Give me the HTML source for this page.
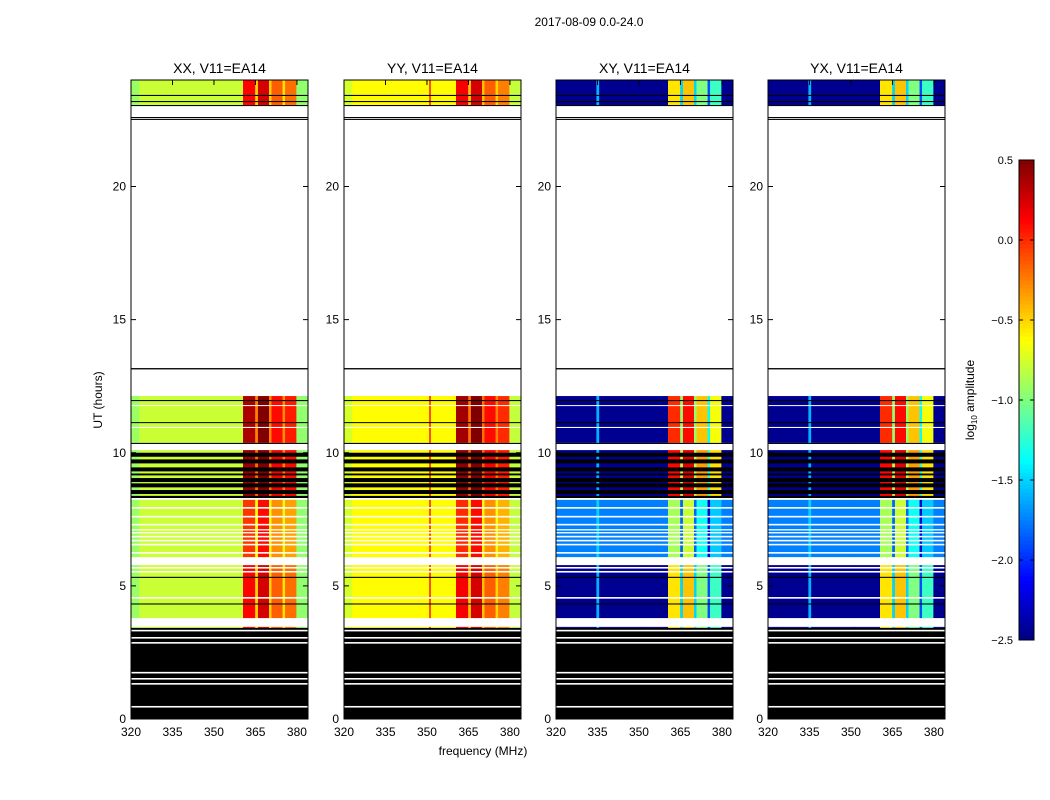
<!DOCTYPE html>
<html><head><meta charset="utf-8"><style>
body{margin:0;background:#fff;}
svg{display:block;font-family:"Liberation Sans","DejaVu Sans",sans-serif;}
</style></head><body>
<svg id="fig" width="1050" height="800" viewBox="0 0 1050 800" xmlns="http://www.w3.org/2000/svg">
<rect width="1050" height="800" fill="#fff"/>
<text x="589" y="26" font-size="12" text-anchor="middle">2017-08-09 0.0-24.0</text>
<text transform="translate(102,400) rotate(-90)" font-size="12" text-anchor="middle">UT (hours)</text>
<text x="483" y="755" font-size="12" text-anchor="middle">frequency (MHz)</text>
<g id="panels"></g>
<g id="cbar"></g>
</svg>
<script>
// ---- data ----
const panelTitles = ["XX, V11=EA14","YY, V11=EA14","XY, V11=EA14","YX, V11=EA14"];
const freqEdges = [320,323,334.6,335.6,350.8,351.4,360.5,364.9,365.9,369.9,370.8,374.8,375.7,379.8,384];
const xxBand = [-0.92,-0.78,-0.78,-0.78,-0.78,-0.78,0.12,-0.5,0.25,-0.5,-0.15,-0.55,-0.2,-0.95];
const yyBand = [-0.75,-0.62,-0.62,-0.62,0.0,-0.62,0.15,-0.45,0.25,-0.45,-0.15,-0.5,-0.25,-0.8];
const xyBand = [-2.45,-2.45,-1.6,-2.45,-2.45,-2.45,-0.55,-1.5,-0.45,-1.5,-1.0,-1.9,-1.2,-2.45];
const yxBand = [-2.45,-2.45,-1.6,-2.45,-2.45,-2.45,-0.55,-1.5,-0.45,-1.5,-1.0,-1.9,-1.2,-2.45];
const hotFirst = 6, hotLast = 12;
// time segments (hours): start, end, kind (d=data, e=data blue xpol, k=flag black, w=blank), boost
const segStart = [23.06,23.40,23.17,23.02,22.57,22.50,13.13,10.37,11.94,11.76,11.12,10.93,10.33,8.30,9.85,9.60,9.30,9.15,8.90,8.70,8.45,8.30,6.08,7.90,7.57,7.27,7.08,6.97,6.82,6.67,6.52,6.21,3.79,5.65,5.50,5.30,4.52,4.30,3.42,0,3.29,3.02,2.83,1.71,1.48,1.29,0.43];
const segEnd   = [24.00,23.44,23.21,23.06,22.61,22.54,13.18,12.13,11.98,11.79,11.15,10.97,10.37,10.10,10.00,9.75,9.45,9.22,9.05,8.85,8.60,8.38,8.23,7.96,7.63,7.33,7.13,7.02,6.88,6.73,6.58,6.27,5.78,5.71,5.56,5.34,4.58,4.34,3.46,3.42,3.35,3.08,2.89,1.77,1.54,1.35,0.49];
const segKind  = ["d","k","k","k","k","k","k","d","k","w","k","w","k","d","k","k","k","k","k","k","k","k","e","w","w","w","w","w","w","w","w","w","d","w","w","k","w","k","d","k","w","w","w","w","w","w","w"];
const segBoost = [0.0,0,0,0,0,0,0,0.25,0,0,0,0,0,0.3,0,0,0,0,0,0,0,0,-0.15,0,0,0,0,0,0,0,0,0,0.0,0,0,0,0,0,0,0,0,0,0,0,0,0,0];
const yTicks = [0,5,10,15,20];
const xTicks = [320,335,350,365,380];
const cbTicks = [-2.5,-2.0,-1.5,-1.0,-0.5,0.0,0.5];
// ---- layout ----
const panelX = [131,344,556,768], PW = 177, PT = 80, PB = 719;
const vmin = -2.5, vmax = 0.5;
const boostScale = [1,1,2.2,2.2];
const bands = [xxBand,yyBand,xyBand,yxBand];
function yS(h){return PB-(h/24)*(PB-PT);}
function xS(p,f){return panelX[p]+(f-320)/(384-320)*PW;}
function jet(v){
  let t=(v-vmin)/(vmax-vmin); t=Math.max(0,Math.min(1,t));
  const c=x=>Math.round(255*Math.max(0,Math.min(1,x)));
  const r=Math.min(4*t-1.5,-4*t+4.5), g=Math.min(4*t-0.5,-4*t+3.5), b=Math.min(4*t+0.5,-4*t+2.5);
  return `rgb(${c(r)},${c(g)},${c(b)})`;
}
const NS="http://www.w3.org/2000/svg";
function mk(tag,attrs,parent){const e=document.createElementNS(NS,tag);for(const k in attrs)e.setAttribute(k,attrs[k]);parent.appendChild(e);return e;}
const G=document.getElementById('panels');
for(let p=0;p<4;p++){
  const g=mk('g',{},G);
  
  
  for(let s=0;s<segStart.length;s++){
    const y0=yS(segEnd[s]), y1=yS(segStart[s]), k=segKind[s];
    if(k==='k'||k==='w'){
      const r=mk('rect',{x:panelX[p],y:y0,width:PW,height:Math.max(1,y1-y0),fill:k==='k'?'#000':'#fff'},g);
      
      
      continue;
    }
    for(let b=0;b<freqEdges.length-1;b++){
      let v=bands[p][b];
      if(b>=hotFirst&&b<=hotLast) v+=segBoost[s]*boostScale[p];
      if(k==='e'&&p>=2&&(b<hotFirst||b>hotLast)) v=(b===2?-1.5:-1.75);
      const x0=xS(p,freqEdges[b]), x1=xS(p,freqEdges[b+1]);
      const r=mk('rect',{x:x0,y:y0,width:x1-x0+0.4,height:y1-y0,fill:jet(v)},g);
      
      
    }
  }
  const fr=mk('rect',{x:panelX[p],y:PT,width:PW,height:PB-PT,fill:'none',stroke:'#000','stroke-width':1},g);
  
  
  const t=mk('text',{x:panelX[p]+PW/2,y:PT-7,'font-size':14,'text-anchor':'middle'},g);
  t.textContent=panelTitles[p];
  
  
  for(const h of yTicks){
    const y=yS(h);
    mk('line',{x1:panelX[p],x2:panelX[p]+5,y1:y,y2:y,stroke:'#000'},g);
    mk('line',{x1:panelX[p]+PW-5,x2:panelX[p]+PW,y1:y,y2:y,stroke:'#000'},g);
    const l=mk('text',{x:panelX[p]-5,y:y+4,'font-size':12,'text-anchor':'end'},g);
    l.textContent=h;
    
    
  }
  for(const f of xTicks){
    const x=xS(p,f);
    mk('line',{x1:x,x2:x,y1:PB,y2:PB-5,stroke:'#000'},g);
    mk('line',{x1:x,x2:x,y1:PT,y2:PT+5,stroke:'#000'},g);
    const l=mk('text',{x:x,y:PB+17,'font-size':12,'text-anchor':'middle'},g);
    l.textContent=f;
    
    
  }
}
// colorbar
const C=document.getElementById('cbar');
const CX=1019,CW=15,CT=160,CB=640;
const N=120;
for(let i=0;i<N;i++){
  const v=vmin+(i+0.5)/N*(vmax-vmin);
  const y=CB-(i+1)/N*(CB-CT);
  const r=mk('rect',{x:CX,y:y,width:CW,height:(CB-CT)/N+0.5,fill:jet(v)},C);
  
  
}
mk('rect',{x:CX,y:CT,width:CW,height:CB-CT,fill:'none',stroke:'#000'},C);
for(const v of cbTicks){
  const y=CB-(v-vmin)/(vmax-vmin)*(CB-CT);
  mk('line',{x1:CX,x2:CX+4,y1:y,y2:y,stroke:'#000'},C);
  mk('line',{x1:CX+CW-4,x2:CX+CW,y1:y,y2:y,stroke:'#000'},C);
  const l=mk('text',{x:CX-6,y:y+4,'font-size':11,'text-anchor':'end'},C);
  l.textContent=(v<0?'\u2212':'')+Math.abs(v).toFixed(1);
  
  
}
const cl=mk('text',{transform:'translate(974,400) rotate(-90)','font-size':12,'text-anchor':'middle'},C);
cl.innerHTML='log<tspan font-size="8" dy="3">10</tspan><tspan dy="-3"> amplitude</tspan>';


</script>
</body></html>
